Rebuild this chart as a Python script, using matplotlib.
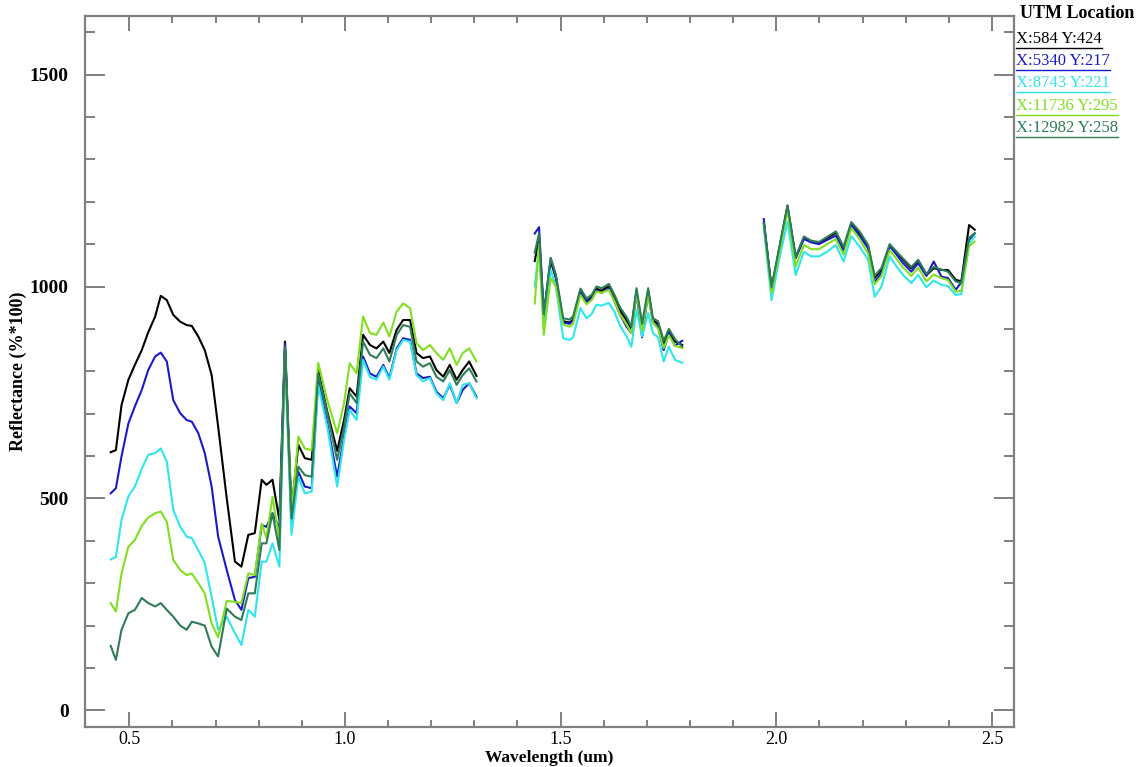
import numpy as np
import matplotlib
matplotlib.use("Agg")
import matplotlib.pyplot as plt
from matplotlib.lines import Line2D

plt.rcParams['font.family'] = ['Liberation Serif', 'DejaVu Serif']

# wavelength samples (um) for the three valid band ranges
wl1 = [0.457, 0.469, 0.482, 0.498, 0.513, 0.529, 0.544, 0.560, 0.573, 0.587,
       0.602, 0.618, 0.633, 0.645, 0.660, 0.675, 0.691, 0.706, 0.726, 0.745,
       0.760, 0.776, 0.791, 0.807, 0.818, 0.832, 0.848, 0.861, 0.876, 0.892,
       0.907, 0.923, 0.938, 0.959, 0.982, 0.998, 1.011, 1.027, 1.042, 1.058,
       1.073, 1.089, 1.103, 1.120, 1.135, 1.151, 1.166, 1.181, 1.197, 1.212,
       1.228, 1.243, 1.259, 1.273, 1.288, 1.305]
wl2 = [1.440, 1.450, 1.461, 1.477, 1.489, 1.506, 1.521, 1.529, 1.546, 1.560,
       1.572, 1.583, 1.595, 1.602, 1.612, 1.625, 1.637, 1.653, 1.664, 1.676,
       1.689, 1.703, 1.714, 1.726, 1.739, 1.751, 1.765, 1.782]
wl3 = [1.971, 1.989, 2.008, 2.026, 2.045, 2.064, 2.081, 2.099, 2.118, 2.138,
       2.156, 2.174, 2.193, 2.213, 2.228, 2.244, 2.263, 2.279, 2.294, 2.313,
       2.329, 2.348, 2.365, 2.383, 2.398, 2.416, 2.429, 2.447, 2.460]

labels = ["X:584 Y:424", "X:5340 Y:217", "X:8743 Y:221", "X:11736 Y:295", "X:12982 Y:258"]
colors = ["#000000", "#1a1acd", "#2ee6ee", "#80e020", "#2e7d57"]

# reflectance (%*100), one list per location and band range
k1 = [609, 614, 720, 780, 815, 850, 892, 929, 978, 968, 933, 917, 909, 907, 882,
      850, 791, 670, 500, 351, 339, 414, 418, 544, 532, 544, 449, 870, 475, 626,
      595, 591, 803, 705, 612, 685, 760, 740, 886, 862, 854, 870, 843, 898, 921,
      921, 843, 831, 835, 803, 787, 815, 780, 803, 823, 789]
b1 = [512, 524, 599, 677, 717, 756, 803, 835, 844, 823, 732, 701, 685, 681, 654,
      607, 528, 410, 331, 260, 237, 312, 315, 437, 433, 465, 430, 865, 440, 563,
      528, 524, 780, 677, 551, 646, 717, 701, 835, 795, 787, 815, 784, 854, 878,
      874, 795, 784, 787, 752, 736, 768, 725, 756, 772, 740]
c1 = [356, 362, 449, 505, 528, 570, 603, 607, 618, 587, 473, 433, 410, 406, 378,
      347, 268, 190, 221, 182, 154, 237, 221, 351, 351, 394, 339, 835, 414, 551,
      512, 516, 768, 669, 528, 638, 709, 685, 827, 787, 780, 811, 780, 850, 874,
      870, 791, 776, 784, 748, 732, 772, 725, 768, 772, 736]
g1 = [253, 233, 323, 386, 402, 435, 455, 465, 469, 445, 355, 331, 319, 323, 300,
      276, 205, 172, 258, 256, 253, 323, 319, 441, 406, 504, 402, 843, 465, 646,
      618, 614, 820, 732, 654, 725, 819, 795, 929, 890, 886, 915, 882, 941, 960,
      949, 866, 850, 862, 843, 827, 854, 815, 843, 854, 823]
s1 = [152, 119, 190, 229, 237, 265, 253, 245, 253, 237, 221, 200, 190, 209, 205,
      200, 150, 127, 240, 221, 213, 276, 276, 394, 394, 465, 378, 858, 453, 575,
      555, 551, 795, 701, 591, 669, 748, 725, 870, 839, 831, 854, 823, 886, 909,
      905, 823, 811, 819, 787, 776, 803, 768, 791, 807, 776]

k2 = [1060, 1115, 930, 1060, 1020, 918, 915, 922, 990, 965, 975, 995, 990, 995,
      1000, 975, 945, 920, 900, 990, 905, 990, 920, 912, 865, 893, 870, 862]
b2 = [1125, 1140, 935, 1065, 1025, 915, 912, 920, 988, 962, 972, 990, 985, 990,
      995, 965, 935, 905, 890, 985, 880, 985, 915, 905, 850, 890, 860, 872]
c2 = [1000, 1090, 900, 1039, 1000, 878, 874, 880, 949, 925, 935, 957, 955, 958,
      961, 940, 909, 882, 858, 945, 882, 937, 890, 880, 823, 858, 827, 820]
g2 = [960, 1100, 886, 1020, 1000, 910, 905, 912, 980, 958, 968, 988, 985, 988,
      992, 965, 935, 910, 890, 985, 895, 980, 915, 900, 855, 885, 860, 855]
s2 = [1080, 1125, 935, 1068, 1028, 925, 922, 930, 995, 972, 980, 1000, 996, 1000,
      1006, 980, 952, 928, 905, 996, 912, 996, 925, 918, 872, 900, 876, 858]

k3 = [1150, 996, 1094, 1190, 1067, 1115, 1106, 1102, 1114, 1127, 1090, 1149, 1126,
      1094, 1020, 1039, 1098, 1079, 1063, 1043, 1061, 1027, 1043, 1039, 1039, 1016,
      1012, 1145, 1134]
b3 = [1159, 990, 1092, 1185, 1068, 1112, 1104, 1100, 1110, 1120, 1085, 1145, 1120,
      1090, 1010, 1032, 1095, 1075, 1055, 1035, 1055, 1025, 1059, 1023, 1020, 992,
      1010, 1110, 1125]
c3 = [1140, 968, 1070, 1153, 1027, 1082, 1071, 1071, 1082, 1098, 1059, 1119, 1094,
      1063, 976, 1000, 1071, 1047, 1027, 1008, 1027, 998, 1014, 1004, 1001, 980,
      982, 1100, 1118]
g3 = [1145, 985, 1085, 1180, 1047, 1098, 1088, 1088, 1100, 1112, 1075, 1138, 1112,
      1078, 1005, 1025, 1085, 1065, 1045, 1025, 1045, 1012, 1028, 1020, 1015, 988,
      990, 1095, 1106]
s3 = [1150, 998, 1098, 1192, 1070, 1118, 1108, 1105, 1117, 1130, 1094, 1152, 1130,
      1098, 1025, 1044, 1100, 1082, 1066, 1046, 1063, 1030, 1046, 1040, 1035, 1012,
      1008, 1115, 1126]

series = [(k1, k2, k3), (b1, b2, b3), (c1, c2, c3), (g1, g2, g3), (s1, s2, s3)]

fig = plt.figure(figsize=(11.43, 7.67), dpi=100)
ax = fig.add_axes([0.0746, 0.0518, 0.8125, 0.9272])

for (y1, y2, y3), col in zip(series, colors):
    for wl, y in ((wl1, y1), (wl2, y2), (wl3, y3)):
        ax.plot(wl, y, color=col, lw=1.5, solid_joinstyle='round')

ax.set_xlim(0.398, 2.551)
ax.set_ylim(-40, 1638)

gray = "#808080"
for sp in ax.spines.values():
    sp.set_color(gray)
    sp.set_linewidth(1.6)

ax.set_xticks([0.5, 1.0, 1.5, 2.0, 2.5])
ax.set_xticklabels(["0.5", "1.0", "1.5", "2.0", "2.5"])
ax.set_xticks(np.arange(0.6, 2.5, 0.1), minor=True)
ax.set_yticks([0, 500, 1000, 1500])
ax.set_yticks([y for y in range(100, 1700, 100) if y % 500], minor=True)

ax.tick_params(axis='both', which='both', direction='in', colors=gray,
               top=True, right=True, labelcolor='black', width=1.4)
ax.tick_params(axis='y', which='major', length=14.4, pad=12, labelsize=14)
ax.tick_params(axis='y', which='minor', length=7.2)
ax.tick_params(axis='x', which='major', length=10.8, pad=3, labelsize=13)
ax.tick_params(axis='x', which='minor', length=5.0)
for t in ax.get_yticklabels():
    t.set_fontweight('bold')

ax.set_xlabel("Wavelength (um)", fontsize=12.5, fontweight='bold')
ax.xaxis.set_label_coords(0.5, -0.032)
ax.set_ylabel("Reflectance (%*100)", fontsize=13, fontweight='bold')
ax.yaxis.set_label_coords(-0.063, 0.5)

# legend block to the right of the plot, text underlined like the original
fig.text(1020 / 1143, 1 - 14 / 767, "UTM Location", fontsize=13, fontweight='bold',
         va='center', ha='left')
fig.canvas.draw()
renderer = fig.canvas.get_renderer()
for i, (lab, col) in enumerate(zip(labels, colors)):
    ypix = 39 + i * 22.2
    t = fig.text(1016 / 1143, 1 - ypix / 767, lab, fontsize=12, color=col,
                 va='center', ha='left')
    bb = t.get_window_extent(renderer)
    yline = (bb.y0 - 1) / fig.bbox.height
    fig.add_artist(Line2D([bb.x0 / fig.bbox.width, bb.x1 / fig.bbox.width],
                          [yline, yline], color=col, lw=1.0,
                          transform=fig.transFigure))

fig.savefig("out.png", dpi=100)
